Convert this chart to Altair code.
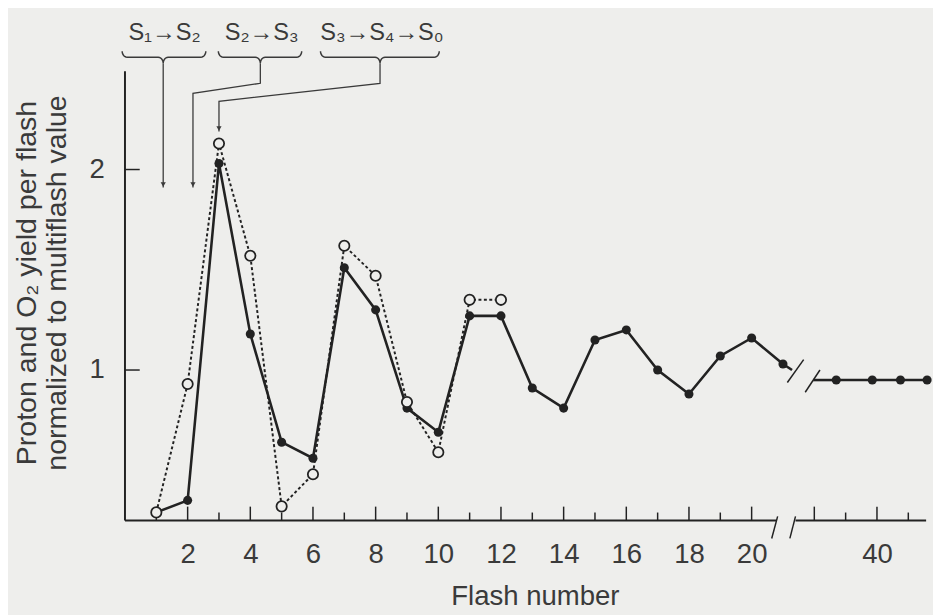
import math
import altair as alt
import pandas as pd

# ---------------- data ----------------
flash_early = list(range(1, 22))
o2_early = [0.29, 0.35, 2.03, 1.18, 0.64, 0.56, 1.51, 1.30, 0.81, 0.69, 1.27,
            1.27, 0.91, 0.81, 1.15, 1.20, 1.00, 0.88, 1.07, 1.16, 1.03]
flash_late = [38.7, 39.85, 40.75, 41.6]
o2_late = [0.95, 0.95, 0.95, 0.95]
flash_proton = list(range(1, 13))
proton = [0.29, 0.93, 2.13, 1.57, 0.32, 0.48, 1.62, 1.47, 0.84, 0.59, 1.35, 1.35]

x_label_values = [2, 4, 6, 8, 10, 12, 14, 16, 18, 20, 40]
x_ticks_long = [2, 4, 6, 8, 10, 12, 14, 16, 18, 20, 38, 40]
x_ticks_short = [1, 3, 5, 7, 9, 11, 13, 15, 17, 19, 39, 41]
y_tick_values = [1, 2]

transition_labels = ["S₁→S₂", "S₂→S₃", "S₃→S₄→S₀"]
label_flash = [1.26, 4.36, 8.2]
brace_from = [-0.09, 2.98, 6.24]
brace_to = [2.58, 5.64, 10.03]
brace_mid = [1.22, 4.32, 8.14]
arrow_flash = [1.22, 2.17, 3.0]
arrow_tip = [1.91, 1.91, 2.19]
arrow_bend_high = [None, 2.43, 2.43]
arrow_bend_low = [None, 2.38, 2.34]

# axis break: flashes 22..37 are cut out (flash 38 sits where 22 would be)
BREAK_SHIFT = 16
def pos(f):
    return f - BREAK_SHIFT if f > 30 else f

W, H = 815, 514
X_MAX = W / 31.875
Y_MIN, Y_MAX = 0.25, 2.77
INK = "#222222"
TXT = "#3a3a3a"
BG = "#eeeeec"
FONT = "Liberation Sans"

X = alt.X("x:Q", scale=alt.Scale(domain=[0, X_MAX], nice=False, zero=False),
          axis=alt.Axis(values=[pos(v) for v in x_label_values],
                        labelExpr=f"datum.value > 21 ? format(datum.value + {BREAK_SHIFT}, 'd') : datum.label",
                        ticks=False, domain=False, grid=False,
                        labelFontSize=28, labelPadding=21, labelColor=TXT, labelFont=FONT,
                        title="Flash number", titleFontSize=28, titleFontWeight="normal",
                        titleColor=TXT, titleFont=FONT, titleX=417, titleY=64))
Y = alt.Y("y:Q", scale=alt.Scale(domain=[Y_MIN, Y_MAX], nice=False, zero=False),
          axis=alt.Axis(values=y_tick_values, ticks=False, domain=False, grid=False,
                        labelFontSize=28, labelPadding=21, labelColor=TXT, labelFont=FONT,
                        title=["Proton and O₂ yield per flash", "normalized to multiflash value"],
                        titleFontSize=29, titleFontWeight="normal", titleColor=TXT,
                        titleFont=FONT, titlePadding=18, titleLineHeight=30, titleY=272))

# ---------------- frames ----------------
xaxis_df = pd.DataFrame({"x": [0, 21.4], "x2": [20.8, X_MAX], "y": [Y_MIN, Y_MIN]})
xaxis = alt.Chart(xaxis_df).mark_rule(color=INK, strokeWidth=2).encode(x=X, x2="x2", y=Y)
yaxis_df = pd.DataFrame({"x": [0], "y": [Y_MIN], "y2": [2.49]})
yaxis = alt.Chart(yaxis_df).mark_rule(color=INK, strokeWidth=2).encode(x=X, y=Y, y2="y2")

tl = alt.Chart(pd.DataFrame({"x": [pos(v) for v in x_ticks_long]})).mark_rule(
    color=INK, strokeWidth=1.5).encode(x=X, y=alt.value(H), y2=alt.value(H - 14))
ts = alt.Chart(pd.DataFrame({"x": [pos(v) for v in x_ticks_short]})).mark_rule(
    color=INK, strokeWidth=1.5).encode(x=X, y=alt.value(H), y2=alt.value(H - 8))
ty = alt.Chart(pd.DataFrame({"y": y_tick_values})).mark_rule(
    color=INK, strokeWidth=1.5).encode(y=Y, x=alt.value(0), x2=alt.value(15))

slash_df = pd.DataFrame({
    "x": [20.64, 21.22, 21.14, 21.71],
    "x2": [20.83, 21.40, 21.66, 22.18],
    "y": [0.16, 0.16, 0.938, 0.889],
    "y2": [0.27, 0.27, 1.052, 1.0],
})
slashes = alt.Chart(slash_df).mark_rule(color=INK, strokeWidth=1.5).encode(
    x=X, x2="x2", y=Y, y2="y2")

# ---------------- series ----------------
prot_df = pd.DataFrame({"x": flash_proton, "y": proton})
o2e_df = pd.DataFrame({"x": flash_early, "y": o2_early})
o2l_df = pd.DataFrame({"x": [pos(f) for f in flash_late], "y": o2_late})
stub_df = pd.DataFrame({"x": [21, 21.97], "x2": [21.29, pos(flash_late[0])],
                        "y": [1.03, o2_late[0]], "y2": [1.0, o2_late[0]]})

dotted = alt.Chart(prot_df).mark_line(color=INK, strokeWidth=2, strokeDash=[3, 2.5]).encode(x=X, y=Y)
solid_e = alt.Chart(o2e_df).mark_line(color=INK, strokeWidth=2.6).encode(x=X, y=Y)
solid_l = alt.Chart(o2l_df).mark_line(color=INK, strokeWidth=2.6).encode(x=X, y=Y)
stubs = alt.Chart(stub_df).mark_rule(color=INK, strokeWidth=2.6).encode(x=X, x2="x2", y=Y, y2="y2")
dots_e = alt.Chart(o2e_df).mark_circle(color=INK, size=85, opacity=1).encode(x=X, y=Y)
dots_l = alt.Chart(o2l_df).mark_circle(color=INK, size=85, opacity=1).encode(x=X, y=Y)
opens = alt.Chart(prot_df).mark_point(shape="circle", size=110, filled=True, fill=BG,
                                      stroke=INK, strokeWidth=1.8, opacity=1).encode(x=X, y=Y)

# ---------------- transition annotations ----------------
BR_BASE, BR_TIP, BR_POINT, BR_C = 2.56, 2.59, 2.53, 0.16
brace_rows = []
for i, (l, m, r) in enumerate(zip(brace_from, brace_mid, brace_to)):
    pts = []
    ts_ = [k * math.pi / 12 for k in range(7)]
    for t in ts_:   # left curl
        pts.append((l + BR_C * (1 - math.cos(t)), BR_TIP + (BR_BASE - BR_TIP) * math.sin(t)))
    for t in ts_:   # to centre point
        pts.append((m - BR_C + BR_C * math.sin(t), BR_BASE + (BR_POINT - BR_BASE) * (1 - math.cos(t))))
    for t in reversed(ts_):
        pts.append((m + BR_C - BR_C * math.sin(t), BR_BASE + (BR_POINT - BR_BASE) * (1 - math.cos(t))))
    for t in reversed(ts_):   # right curl
        pts.append((r - BR_C * (1 - math.cos(t)), BR_TIP + (BR_BASE - BR_TIP) * math.sin(t)))
    for j, (px, py) in enumerate(pts):
        brace_rows.append({"g": i, "o": j, "x": px, "y": py})
braces = alt.Chart(pd.DataFrame(brace_rows)).mark_line(color=TXT, strokeWidth=1.5).encode(
    x=X, y=Y, detail="g:N", order="o:Q")

arrow_rows = []
for i in range(3):
    path = [(brace_mid[i], BR_POINT)]
    if arrow_bend_high[i] is not None:
        path += [(brace_mid[i], arrow_bend_high[i]), (arrow_flash[i], arrow_bend_low[i])]
    path += [(arrow_flash[i], arrow_tip[i])]
    for j, (px, py) in enumerate(path):
        arrow_rows.append({"g": i, "o": j, "x": px, "y": py})
arrows = alt.Chart(pd.DataFrame(arrow_rows)).mark_line(color=TXT, strokeWidth=1.3).encode(
    x=X, y=Y, detail="g:N", order="o:Q")
heads = alt.Chart(pd.DataFrame({"x": arrow_flash, "y": arrow_tip})).mark_point(
    shape="triangle-down", filled=True, color=TXT, size=28, opacity=1, yOffset=-3).encode(x=X, y=Y)
labels = alt.Chart(pd.DataFrame({"x": label_flash, "y": [2.68] * 3, "t": transition_labels})).mark_text(
    font=FONT, fontSize=24, color=TXT, baseline="middle").encode(x=X, y=Y, text="t:N")

chart = alt.layer(
    xaxis, yaxis, tl, ts, ty, dotted, solid_e, solid_l, stubs, slashes,
    dots_e, dots_l, opens, braces, arrows, heads, labels
).properties(
    width=W, height=H, background=BG,
    padding={"left": 5, "top": 2, "right": 0, "bottom": 0}
).configure_view(stroke=None)

chart.save("out.html", embed_options={"renderer": "svg", "actions": False})
